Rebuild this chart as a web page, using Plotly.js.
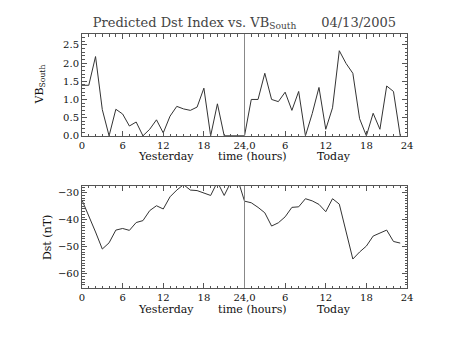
<!DOCTYPE html>
<html>
<head>
<meta charset="utf-8">
<script src="https://cdn.plot.ly/plotly-3.0.1.min.js"></script>
<style>html,body{margin:0;padding:0;background:#fff;}</style>
</head>
<body>
<div id="chart" style="width:453px;height:340px;"></div>
<script>
// Hours: 0-23 = yesterday, 24-47 = today
const hours = [0,1,2,3,4,5,6,7,8,9,10,11,12,13,14,15,16,17,18,19,20,21,22,23,
               24,25,26,27,28,29,30,31,32,33,34,35,36,37,38,39,40,41,42,43,44,45,46,47];
const vbSouth = [1.39,1.39,2.18,0.72,0,0.73,0.6,0.27,0.38,0,0.18,0.44,0.08,0.54,0.81,0.74,0.7,0.79,1.31,0,0.88,0,0,0,
                 0,1.0,1.0,1.72,1.0,0.94,1.2,0.7,1.22,0,0.61,1.33,0.18,0.77,2.34,1.99,1.72,0.47,0,0.62,0.18,1.37,1.22,0];
const dst = [-32.7,-38.5,-44.5,-50.8,-48.5,-43.8,-43.2,-43.9,-41,-40.3,-36.6,-34.8,-36,-31.5,-29,-27,-29,-29.2,-30,-31,-26,-31,-26,-25,
             -33.1,-33.7,-35.4,-37.4,-42.3,-41.1,-38.9,-35.4,-35.2,-32.2,-33,-34.3,-37,-32.2,-34.2,-44.3,-54.5,-51.9,-49.7,-46,-45,-43.8,-48,-48.6];
const xTickVals = [0,6,12,18,24,30,36,42,48];
const xTickText = ["0","6","12","18","24,0","6","12","18","24"];
const vbTickVals = [0,0.5,1.0,1.5,2.0,2.5];
const vbTickText = ["0.0","0.5","1.0","1.5","2.0","2.5"];
const dstTickVals = [-60,-50,-40,-30];

const FONT = "DejaVu Serif";
const frame = "#555";

function xAxis(anchor){
  return {
    anchor: anchor, range:[0,48], tickmode:'array', tickvals:xTickVals, ticktext:xTickText,
    ticks:'inside', ticklen:5, tickcolor:frame, showline:true, linecolor:frame, linewidth:1,
    mirror:'ticks', showgrid:false, zeroline:false,
    minor:{dtick:1, ticks:'inside', ticklen:2.5, tickcolor:frame, showgrid:false},
    tickfont:{family:FONT, size:10, color:'#111'}
  };
}

const data = [
  {x:hours, y:vbSouth, type:'scatter', mode:'lines', xaxis:'x', yaxis:'y',
   line:{color:'#333', width:1}, hoverinfo:'skip'},
  {x:hours, y:dst, type:'scatter', mode:'lines', xaxis:'x2', yaxis:'y2',
   line:{color:'#333', width:1}, hoverinfo:'skip'}
];

const layout = {
  width:453, height:340, paper_bgcolor:'#fff', plot_bgcolor:'#fff', showlegend:false,
  margin:{l:82, r:46, t:34, b:52},
  font:{family:FONT, color:'#111'},
  title:{text:'Predicted Dst Index vs. VB<sub>South</sub>      04/13/2005', xref:'paper', x:0.5, xanchor:'center',
         yref:'container', y:0.935, yanchor:'middle', font:{family:FONT, size:13, color:'#444'}},
  xaxis: Object.assign(xAxis('y'), {domain:[0,1]}),
  xaxis2: Object.assign(xAxis('y2'), {domain:[0,1]}),
  yaxis:{domain:[0.598,1], anchor:'x', range:[-0.008,2.8], tickmode:'array', tickvals:vbTickVals, ticktext:vbTickText,
         ticks:'inside', ticklen:5, tickcolor:frame, showline:true, linecolor:frame, mirror:'ticks',
         showgrid:false, zeroline:false,
         minor:{dtick:0.1, ticks:'inside', ticklen:2.5, tickcolor:frame, showgrid:false},
         tickfont:{family:FONT, size:10, color:'#111'}},
  yaxis2:{domain:[0,0.4016], anchor:'x2', range:[-65.2,-27.5], tickmode:'array', tickvals:dstTickVals,
         ticks:'inside', ticklen:5, tickcolor:frame, showline:true, linecolor:frame, mirror:'ticks',
         showgrid:false, zeroline:false,
         minor:{dtick:1, ticks:'inside', ticklen:2.5, tickcolor:frame, showgrid:false},
         tickfont:{family:FONT, size:10, color:'#111'}},
  shapes:[
    {type:'line', xref:'x', yref:'y domain', x0:24, x1:24, y0:0, y1:1, line:{color:'#888', width:1}},
    {type:'line', xref:'x2', yref:'y2 domain', x0:24, x1:24, y0:0, y1:1, line:{color:'#888', width:1}}
  ],
  annotations:[
    {text:'Yesterday', xref:'x', x:12.4, yref:'paper', y:0.516, yanchor:'middle', showarrow:false, font:{family:FONT,size:11}},
    {text:'time (hours)', xref:'x', x:25.2, yref:'paper', y:0.516, yanchor:'middle', showarrow:false, font:{family:FONT,size:11}},
    {text:'Today', xref:'x', x:37.2, yref:'paper', y:0.516, yanchor:'middle', showarrow:false, font:{family:FONT,size:11}},
    {text:'Yesterday', xref:'x2', x:12.4, yref:'paper', y:-0.0866, yanchor:'middle', showarrow:false, font:{family:FONT,size:11}},
    {text:'time (hours)', xref:'x2', x:25.2, yref:'paper', y:-0.0866, yanchor:'middle', showarrow:false, font:{family:FONT,size:11}},
    {text:'Today', xref:'x2', x:37.2, yref:'paper', y:-0.0866, yanchor:'middle', showarrow:false, font:{family:FONT,size:11}},
    {text:'VB<sub>South</sub>', textangle:-90, xref:'paper', x:-0.13, xanchor:'center', yref:'paper', y:0.80, yanchor:'middle', showarrow:false, font:{family:FONT,size:11}},
    {text:'Dst (nT)', textangle:-90, xref:'paper', x:-0.108, xanchor:'center', yref:'paper', y:0.2, yanchor:'middle', showarrow:false, font:{family:FONT,size:11}}
  ]
};

Plotly.newPlot('chart', data, layout, {displayModeBar:false, staticPlot:true});
</script>
</body>
</html>
